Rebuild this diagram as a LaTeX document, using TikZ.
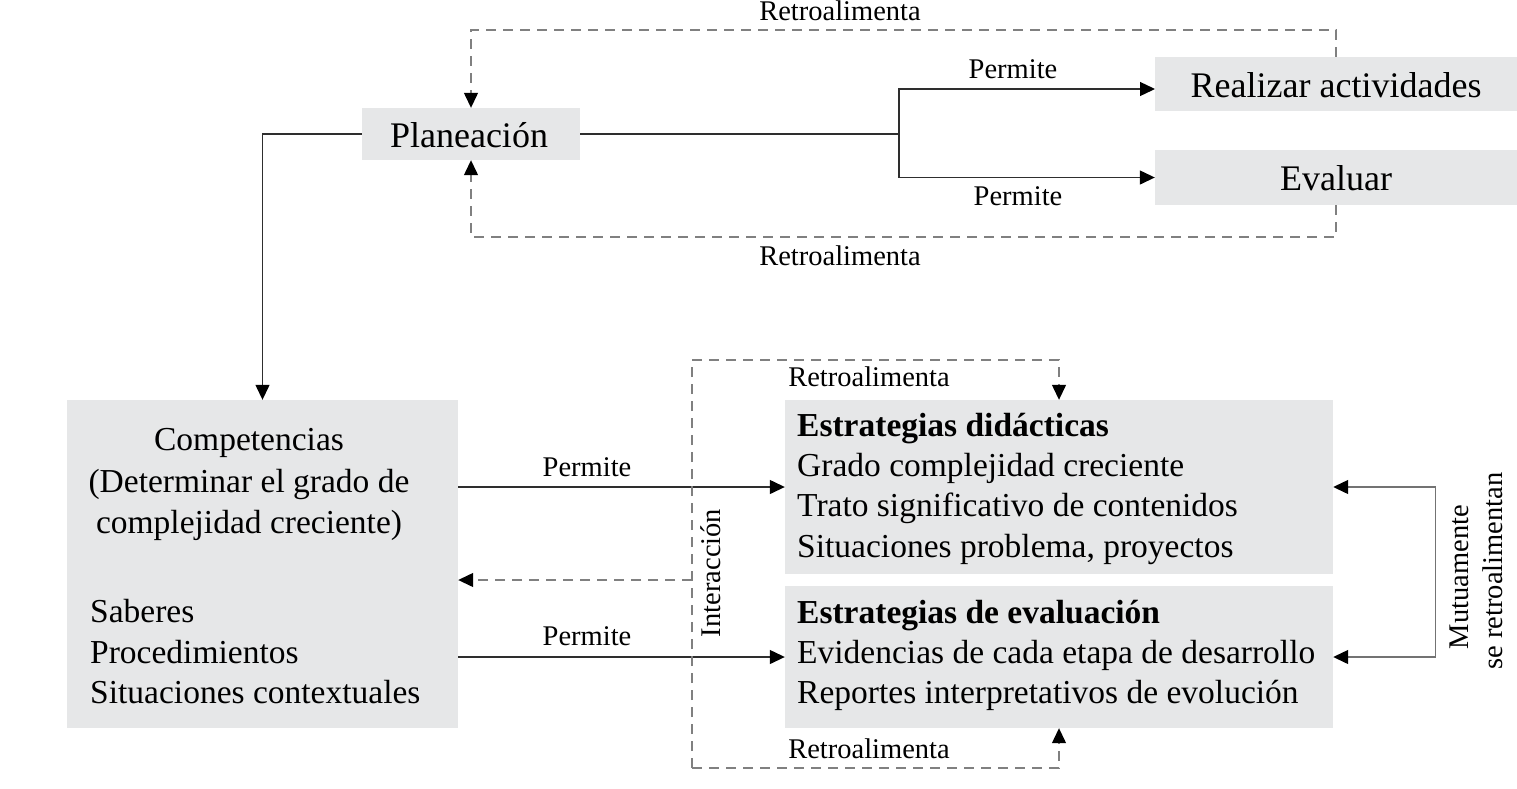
\documentclass[tikz,border=0pt]{standalone}
\usepackage{fontspec}
\setmainfont{Liberation Serif}
\usetikzlibrary{arrows.meta}
\definecolor{boxgray}{HTML}{E6E7E8}
\definecolor{dashgray}{HTML}{808080}
\definecolor{linegray}{HTML}{2E2E2E}
\begin{document}
\begin{tikzpicture}[x=1pt,y=-1pt,
  box/.style={fill=boxgray, draw=none, inner sep=0pt},
  bigtxt/.style={font=\fontsize{36}{40}\selectfont, inner sep=0pt},
  bodytxt/.style={font=\fontsize{33.5}{40.5}\selectfont, inner sep=0pt},
  lbltxt/.style={font=\fontsize{28.5}{32}\selectfont, inner sep=0pt},
  tip/.style={-{Triangle[length=15pt,width=14pt,color=black,fill=black]}},
  solidline/.style={draw=linegray, line width=1.3pt},
  dashline/.style={draw=dashgray, line width=1.3pt, dash pattern=on 10pt off 7pt},
  mutline/.style={draw=dashgray!90!black, line width=1.3pt}
]
\useasboundingbox (0,0) rectangle (1517,788);

% boxes
\node[box, minimum width=218pt, minimum height=52pt] (plan) at (471,134) {};
\node[box, minimum width=362pt, minimum height=54pt] (real) at (1336,84) {};
\node[box, minimum width=362pt, minimum height=55pt] (eval) at (1336,177.5) {};
\node[box, minimum width=391pt, minimum height=328pt] (comp) at (262.5,564) {};
\node[box, minimum width=548pt, minimum height=174pt] (estd) at (1059,487) {};
\node[box, minimum width=548pt, minimum height=142pt] (este) at (1059,657) {};

% box texts
\node[bigtxt, anchor=base] (plant) at (469,147) {Planeación};
\node[bigtxt, anchor=base] (realt) at (1336,97) {Realizar actividades};
\node[bigtxt, anchor=base] (evalt) at (1336,190) {Evaluar};

\node[bodytxt, anchor=base] (c1) at (249,450) {Competencias};
\node[bodytxt, anchor=base] (c2) at (249,492) {(Determinar el grado de};
\node[bodytxt, anchor=base] (c3) at (249,533) {complejidad creciente)};
\node[bodytxt, anchor=base west] (c4) at (90,622) {Saberes};
\node[bodytxt, anchor=base west] (c5) at (90,663) {Procedimientos};
\node[bodytxt, anchor=base west] (c6) at (90,703) {Situaciones contextuales};

\node[bodytxt, anchor=base west, font=\fontsize{33.5}{40.5}\selectfont\bfseries] (d1) at (797,436) {Estrategias didácticas};
\node[bodytxt, anchor=base west] (d2) at (797,476) {Grado complejidad creciente};
\node[bodytxt, anchor=base west] (d3) at (797,516) {Trato significativo de contenidos};
\node[bodytxt, anchor=base west] (d4) at (797,557) {Situaciones problema, proyectos};

\node[bodytxt, anchor=base west, font=\fontsize{33.5}{40.5}\selectfont\bfseries] (e1) at (797,623) {Estrategias de evaluación};
\node[bodytxt, anchor=base west] (e2) at (797,663) {Evidencias de cada etapa de desarrollo};
\node[bodytxt, anchor=base west] (e3) at (797,703) {Reportes interpretativos de evolución};

% coordinates
\coordinate (br) at (899,134);
\coordinate (ra) at (1155,89);
\coordinate (tl) at (471,30);
\coordinate (bl) at (471,237);
\coordinate (it) at (692,360);
\coordinate (ib) at (692,768);
\coordinate (im) at (692,580);

% top connectors
\draw[solidline] (plan.east) -- (br);
\draw[solidline, tip] (br) |- (ra);
\draw[solidline, tip] (br) |- (eval.west);
\draw[dashline, tip] (real.north) |- (tl) -- (plan.north);
\draw[dashline, tip] (eval.south) |- (bl) -- (plan.south);
\draw[solidline, tip] (plan.west) -| (comp.north);

% lower connectors
\draw[solidline, tip] (comp.east |- estd.west) -- (estd.west);
\draw[solidline, tip] (comp.east |- este.west) -- (este.west);
\draw[dashline] (ib) -- (it);
\draw[dashline, tip] (it) -| (estd.north);
\draw[dashline, tip] (ib) -| (este.south);
\draw[dashline, tip] (im) -- (comp.east |- im);
\draw[mutline, {Triangle[length=15pt,width=14pt,color=black,fill=black]}-{Triangle[length=15pt,width=14pt,color=black,fill=black]}] (estd.east) -- ++(102,0) |- (este.east);

% labels
\node[lbltxt, anchor=base] (l1) at (1013,78) {Permite};
\node[lbltxt, anchor=base] (l2) at (1018,205) {Permite};
\node[lbltxt, anchor=base] (l3) at (840,20) {Retroalimenta};
\node[lbltxt, anchor=base] (l4) at (840,265) {Retroalimenta};
\node[lbltxt, anchor=base] (l5) at (587,476) {Permite};
\node[lbltxt, anchor=base] (l6) at (587,645) {Permite};
\node[lbltxt, anchor=base] (l7) at (869,386) {Retroalimenta};
\node[lbltxt, anchor=base] (l8) at (869,758) {Retroalimenta};
\node[lbltxt, anchor=base, rotate=90] (l9) at (720,573) {Interacción};
\node[lbltxt, anchor=base, rotate=90] (l10) at (1468,577) {Mutuamente};
\node[lbltxt, anchor=base, rotate=90] (l11) at (1502,571) {se retroalimentan};
\end{tikzpicture}
\end{document}
